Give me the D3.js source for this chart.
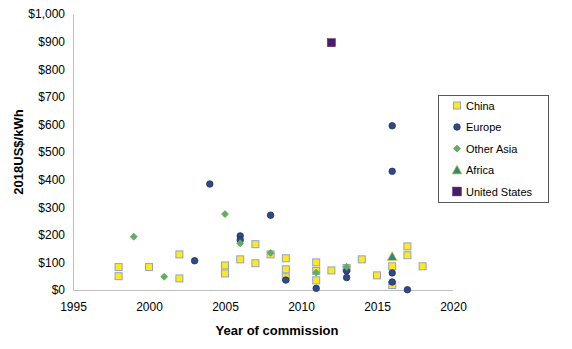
<!DOCTYPE html>
<html>
<head>
<meta charset="utf-8">
<script src="https://cdn.jsdelivr.net/npm/d3@7"></script>
<style>
body { margin: 0; background: #fff; }
text { font-family: "Liberation Sans", Arial, sans-serif; }
</style>
</head>
<body>
<div id="chart"></div>
<script>
const WIDTH = 572;
const HEIGHT = 349;

// [year, value] pairs per region
const china = [
  [1998, 83], [1998, 50], [2000, 83], [2002, 129], [2002, 42],
  [2005, 89], [2005, 60], [2006, 111], [2007, 166], [2007, 97],
  [2008, 129], [2009, 115], [2009, 75], [2009, 46],
  [2011, 100], [2011, 69], [2011, 35], [2012, 71], [2013, 80],
  [2014, 111], [2015, 53], [2016, 86], [2016, 18],
  [2017, 158], [2017, 126], [2018, 86]
];
const europe = [
  [2003, 106], [2004, 384], [2006, 196], [2006, 181], [2008, 271],
  [2009, 36], [2011, 6], [2013, 69], [2013, 45],
  [2016, 595], [2016, 430], [2016, 62], [2016, 29], [2017, 1]
];
const otherAsia = [
  [1999, 193], [2001, 48], [2005, 275], [2006, 169],
  [2008, 134], [2011, 63], [2013, 84]
];
const africa = [[2016, 121]];
const unitedStates = [[2012, 896]];

const xTicks = [1995, 2000, 2005, 2010, 2015, 2020];
const yTicks = [0, 100, 200, 300, 400, 500, 600, 700, 800, 900, 1000];

const seriesList = [
  { name: 'China', data: china, shape: 'square' },
  { name: 'Europe', data: europe, shape: 'circle' },
  { name: 'Other Asia', data: otherAsia, shape: 'diamond' },
  { name: 'Africa', data: africa, shape: 'triangle' },
  { name: 'United States', data: unitedStates, shape: 'bigsquare' }
];

const STYLES = {
  square:   { fill: '#ffe91c', stroke: '#8fa2cf', sw: 1, size: 7 },
  circle:   { fill: '#30498a', stroke: '#1f2f5e', sw: 0.8, size: 6.5 },
  diamond:  { fill: '#5ab44f', stroke: '#7f9a7c', sw: 0.8, size: 7 },
  triangle: { fill: '#2a8c78', stroke: '#e3cf54', sw: 0.8, size: 10 },
  bigsquare:{ fill: '#4b1c6b', stroke: '#4b1c6b', sw: 0.5, size: 8 }
};

const margin = { left: 73, right: 119, top: 14, bottom: 59 };

const svg = d3.select('#chart').append('svg')
  .attr('width', WIDTH)
  .attr('height', HEIGHT);

const x = d3.scaleLinear().domain([1995, 2020]).range([margin.left, WIDTH - margin.right]);
const y = d3.scaleLinear().domain([0, 1000]).range([HEIGHT - margin.bottom, margin.top]);

const money = d3.format('$,');

// axes
const xAxis = svg.append('g')
  .attr('transform', 'translate(0,' + y(0) + ')')
  .call(d3.axisBottom(x).tickValues(xTicks).tickFormat(d3.format('d')).tickSize(0).tickPadding(12));
const yAxis = svg.append('g')
  .attr('transform', 'translate(' + x(1995) + ',0)')
  .call(d3.axisLeft(y).tickValues(yTicks).tickFormat(money).tickSize(0).tickPadding(8));

[xAxis, yAxis].forEach(function(a) {
  a.select('.domain').attr('stroke', '#bfbfbf').attr('stroke-width', 1);
  a.selectAll('text').attr('fill', '#000').style('font-size', '12px')
    .style('font-family', '"Liberation Sans", Arial, sans-serif');
});

// axis titles
svg.append('text')
  .attr('x', 277)
  .attr('y', 335)
  .attr('text-anchor', 'middle')
  .style('font-size', '13px')
  .style('font-weight', 'bold')
  .text('Year of commission');

svg.append('text')
  .attr('transform', 'translate(23,' + (y(500)) + ') rotate(-90)')
  .attr('text-anchor', 'middle')
  .style('font-size', '13px')
  .style('font-weight', 'bold')
  .text('2018US$/kWh');

function drawMarker(g, shape, cx, cy, scale) {
  const st = STYLES[shape];
  const s = st.size * (scale || 1);
  let el;
  if (shape === 'square' || shape === 'bigsquare') {
    el = g.append('rect')
      .attr('x', cx - s / 2).attr('y', cy - s / 2)
      .attr('width', s).attr('height', s);
  } else if (shape === 'circle') {
    el = g.append('circle').attr('cx', cx).attr('cy', cy).attr('r', s / 2);
  } else if (shape === 'diamond') {
    const h = s / 2;
    el = g.append('path')
      .attr('d', 'M' + cx + ',' + (cy - h) + 'L' + (cx + h) + ',' + cy +
        'L' + cx + ',' + (cy + h) + 'L' + (cx - h) + ',' + cy + 'Z');
  } else {
    const h = s / 2;
    el = g.append('path')
      .attr('d', 'M' + cx + ',' + (cy - h) + 'L' + (cx + h) + ',' + (cy + h * 0.8) +
        'L' + (cx - h) + ',' + (cy + h * 0.8) + 'Z');
  }
  el.attr('fill', st.fill).attr('stroke', st.stroke).attr('stroke-width', st.sw);
}

const plot = svg.append('g');
seriesList.forEach(function(s) {
  s.data.forEach(function(d) {
    drawMarker(plot, s.shape, x(d[0]), y(d[1]));
  });
});

// legend
const legend = svg.append('g');
legend.append('rect')
  .attr('x', 438.5).attr('y', 95.5)
  .attr('width', 110).attr('height', 107)
  .attr('fill', '#fff')
  .attr('stroke', '#595959')
  .attr('stroke-width', 1);

seriesList.forEach(function(s, i) {
  const ly = 105.5 + i * 21.5;
  drawMarker(legend, s.shape, 457, ly, s.shape === 'bigsquare' ? 1.1 : 1);
  legend.append('text')
    .attr('x', 466)
    .attr('y', ly + 4)
    .style('font-size', '11px')
    .text(s.name);
});
</script>
</body>
</html>
